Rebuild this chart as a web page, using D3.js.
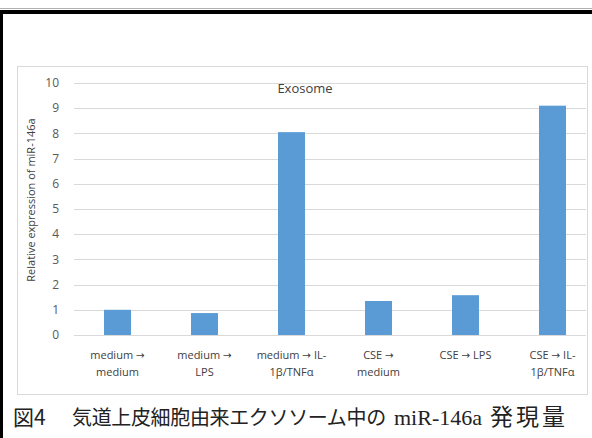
<!DOCTYPE html>
<html><head><meta charset="utf-8">
<script src="https://cdn.jsdelivr.net/npm/d3@7"></script>
<style>body{margin:0;background:#fff}</style>
</head><body>
<script>
const categories = [["medium →","medium"],["medium →","LPS"],["medium → IL-","1β/TNFα"],["CSE →","medium"],["CSE → LPS",""],["CSE → IL-","1β/TNFα"]];
const values = [1.0, 0.87, 8.05, 1.35, 1.58, 9.1];
const yTicks = [0,1,2,3,4,5,6,7,8,9,10];
const chartTitle = "Exosome";
const yTitle = "Relative expression of miR-146a";
const captionParts = ["図4", "気道上皮細胞由来エクソソーム中の", "miR-146a", "発現量"];

const W = 592, H = 438;
const svg = d3.select("body").append("svg").attr("width", W).attr("height", H);

// outer frame
svg.append("line").attr("x1",0).attr("x2",W).attr("y1",8.5).attr("y2",8.5).attr("stroke","#b0b0b0");
svg.append("rect").attr("x",0).attr("y",10).attr("width",W).attr("height",4).attr("fill","#000");
svg.append("rect").attr("x",0).attr("y",10).attr("width",3).attr("height",H-10).attr("fill","#000");

// chart box
svg.append("rect").attr("x",17.5).attr("y",66.5).attr("width",570).attr("height",328)
  .attr("fill","#fff").attr("stroke","#d9d9d9");

const plot = {l:74, r:596, t:83, b:335};
const x = d3.scaleBand().domain(d3.range(categories.length)).range([plot.l, plot.r]).paddingInner(0.69).paddingOuter(0.345);
const y = d3.scaleLinear().domain([0,10]).range([plot.b, plot.t]);

const g = svg.append("g");
const gridR = 586;
g.selectAll(".grid").data(yTicks).join("line")
  .attr("x1",plot.l).attr("x2",gridR)
  .attr("y1",d=>Math.round(y(d))+0.5).attr("y2",d=>Math.round(y(d))+0.5)
  .attr("stroke","#d9d9d9").attr("stroke-width",1);

const font = "'Open Sans', 'Segoe UI', sans-serif";
g.selectAll(".yt").data(yTicks).join("text")
  .attr("x",59).attr("y",d=>y(d)).attr("dy","0.35em").attr("text-anchor","end")
  .attr("font-family",font).attr("font-size",12).attr("fill","#595959").text(d=>d);

g.selectAll(".bar").data(values).join("rect")
  .attr("x",(d,i)=>x(i)).attr("width",x.bandwidth())
  .attr("y",d=>y(d)).attr("height",d=>y(0)-y(d)).attr("fill","#5b9bd5");

function addLine(textSel, str, cx, yy) {
  const parts = str.split("→");
  parts.forEach((p, k) => {
    const t = textSel.append("tspan").text(p);
    if (k === 0) t.attr("x", cx).attr("y", yy);
    if (k < parts.length - 1) {
      textSel.append("tspan").attr("font-family","'DejaVu Sans', sans-serif").attr("font-size",10.5).text("→");
    }
  });
}
categories.forEach((c, i) => {
  const cx = x(i) + x.bandwidth()/2;
  const t = g.append("text").attr("text-anchor","middle").attr("font-family",font)
    .attr("font-size",11).attr("fill","#404040");
  addLine(t, c[0], cx, 359);
  const t2 = g.append("text").attr("text-anchor","middle").attr("font-family",font)
    .attr("font-size",11).attr("fill","#404040");
  addLine(t2, c[1], cx, 376);
});

svg.append("text").attr("x",305).attr("y",93).attr("text-anchor","middle")
  .attr("font-family",font).attr("font-size",13).attr("fill","#404040").text(chartTitle);

svg.append("text").attr("transform","translate(35,200) rotate(-90)").attr("text-anchor","middle")
  .attr("font-family",font).attr("font-size",11).attr("fill","#404040").text(yTitle);

const cjk = "'Noto Sans CJK JP', sans-serif";
const capY = 425;
svg.append("text").attr("x",13).attr("y",capY).attr("font-size",21).attr("font-family",cjk).attr("fill","#222").text(captionParts[0]);
svg.append("text").attr("x",72).attr("y",capY).attr("font-size",20).attr("letter-spacing",-0.35).attr("font-family",cjk).attr("fill","#222").text(captionParts[1]);
svg.append("text").attr("x",394).attr("y",capY).attr("font-size",22).attr("font-family","'Liberation Serif', serif").attr("fill","#222").text(captionParts[2]);
svg.append("text").attr("x",490).attr("y",capY).attr("font-size",23).attr("letter-spacing",3).attr("font-family",cjk).attr("fill","#222").text(captionParts[3]);
</script>
</body></html>
